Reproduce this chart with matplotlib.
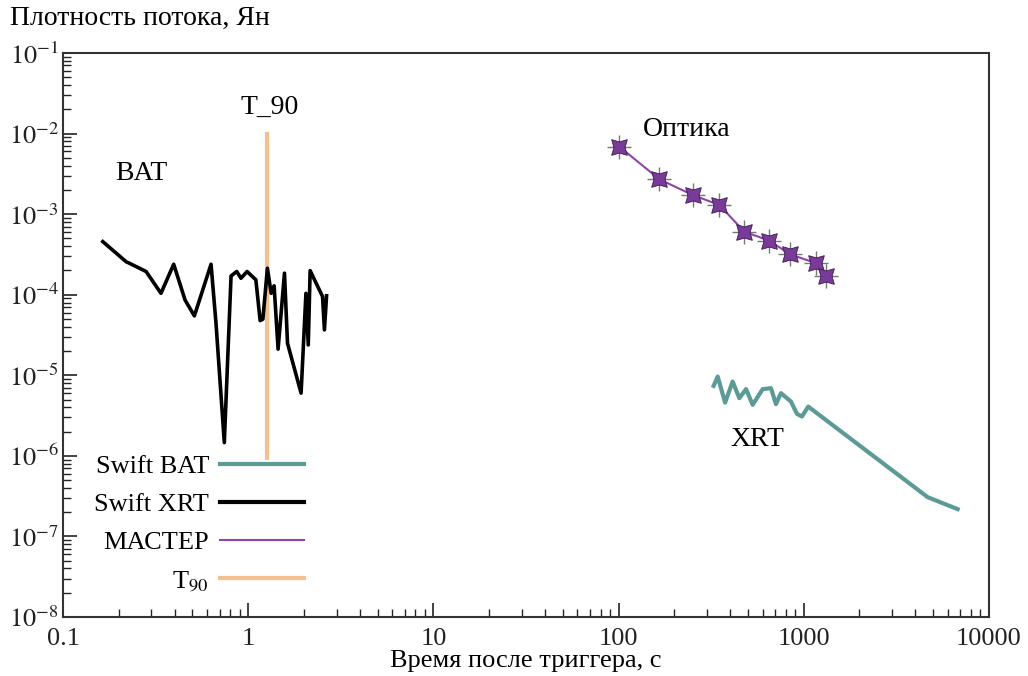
import numpy as np
import matplotlib
matplotlib.use("Agg")
import matplotlib.pyplot as plt
from matplotlib.lines import Line2D

plt.rcParams['font.family'] = ['Liberation Serif', 'DejaVu Serif']
plt.rcParams['mathtext.fontset'] = 'stix'

# BAT (чёрная кривая)
bat_t = [0.164, 0.219, 0.228, 0.281, 0.338, 0.396, 0.456, 0.512, 0.630, 0.670,
         0.743, 0.808, 0.867, 0.914, 0.986, 1.10, 1.16, 1.20, 1.27, 1.33,
         1.38, 1.45, 1.57, 1.63, 1.93, 2.05, 2.11, 2.16, 2.52, 2.58, 2.65]
bat_f = [4.56e-4, 2.57e-4, 2.46e-4, 1.94e-4, 1.04e-4, 2.39e-4, 8.6e-5, 5.46e-5, 2.39e-4, 4.43e-5,
         1.46e-6, 1.71e-4, 1.94e-4, 1.60e-4, 1.94e-4, 1.53e-4, 4.77e-5, 4.97e-5, 2.13e-4, 1.04e-4,
         1.29e-4, 2.11e-5, 1.85e-4, 2.50e-5, 6.0e-6, 1.04e-4, 2.38e-5, 1.99e-4, 9.5e-5, 3.66e-5, 9.7e-5]

# XRT (бирюзовая кривая)
xrt_t = [326, 343, 376, 413, 449, 488, 530, 600, 665, 708, 753, 853, 919, 978, 1057, 4667, 6777]
xrt_f = [7.39e-6, 9.64e-6, 4.58e-6, 8.36e-6, 5.20e-6, 6.73e-6, 4.30e-6, 6.73e-6, 6.92e-6, 4.38e-6,
         6.0e-6, 4.72e-6, 3.32e-6, 3.08e-6, 4.09e-6, 3.07e-7, 2.18e-7]

# МАСТЕР (оптика)
opt_t = [101, 166, 251, 350, 477, 651, 843, 1164, 1318]
opt_f = [6.88e-3, 2.71e-3, 1.73e-3, 1.30e-3, 6.07e-4, 4.69e-4, 3.18e-4, 2.46e-4, 1.71e-4]

# T90
t90_x = 1.26
t90_y = [0.95e-6, 1e-2]

c_teal = '#5b9b97'
c_purple = '#8e44a8'
c_orange = '#f5c08e'

fig = plt.figure(figsize=(10.28, 6.76), dpi=100)
ax = fig.add_axes([0.0613, 0.0873, 0.9007, 0.8343])

ax.plot(bat_t, bat_f, color='black', lw=2.6, zorder=3)
ax.plot([t90_x, t90_x], t90_y, color=c_orange, lw=3, zorder=2)
ax.plot(xrt_t, xrt_f, color=c_teal, lw=3, zorder=3)
ax.plot(opt_t, opt_f, color=c_purple, lw=1.5, zorder=3)
ax.plot(opt_t, opt_f, ls='none', marker='+', ms=17, mew=1.0, color='#777777', zorder=4)
ax.plot(opt_t, opt_f, ls='none', marker=(4, 1, 45), ms=16, mfc='#7a3a99', mec='#3a1a50', mew=0.6, zorder=5)

ax.set_xscale('log')
ax.set_yscale('log')
ax.set_xlim(0.1, 10000)
ax.set_ylim(1e-8, 1e-1)

ax.set_xticks([0.1, 1, 10, 100, 1000, 10000])
ax.set_xticklabels(['0.1', '1', '10', '100', '1000', '10000'])
ax.set_yticks([10.0**k for k in range(-8, 0)])
ax.set_yticklabels([r'$10^{%d}$' % k for k in range(-8, 0)])

ax.tick_params(which='both', direction='in', top=False, right=False, labelsize=19, colors='#222222')
ax.tick_params(axis='x', pad=8)
ax.tick_params(axis='y', pad=3)
ax.tick_params(which='major', length=10, width=1.2)
ax.tick_params(which='minor', length=6, width=1.0)
for s in ax.spines.values():
    s.set_linewidth(1.5)
    s.set_color('#333333')

ax.text(1.3, 2.14e-2, 'T_90', fontsize=20, ha='center', va='center')
ax.text(0.264, 3.24e-3, 'BAT', fontsize=20, ha='center', va='center')
ax.text(234, 1.11e-2, 'Оптика', fontsize=20, ha='center', va='center')
ax.text(559, 1.58e-6, 'XRT', fontsize=20, ha='center', va='center')

handles = [Line2D([], [], color=c_teal, lw=3),
           Line2D([], [], color='black', lw=3),
           Line2D([], [], color=c_purple, lw=1.5),
           Line2D([], [], color=c_orange, lw=3)]
labels = ['Swift BAT', 'Swift XRT', 'МАСТЕР', 'T$_{90}$']
ax.legend(handles, labels, loc='lower left', bbox_to_anchor=(0.008, 0.0), frameon=False,
          markerfirst=False, fontsize=19, handlelength=3.2, handletextpad=0.4, labelspacing=0.55)

fig.text(0.01, 0.973, 'Плотность потока, Ян', fontsize=20, ha='left', va='center')
ax.set_xlabel('Время после триггера, с', fontsize=19, labelpad=0)

fig.savefig('out.png', dpi=100)
